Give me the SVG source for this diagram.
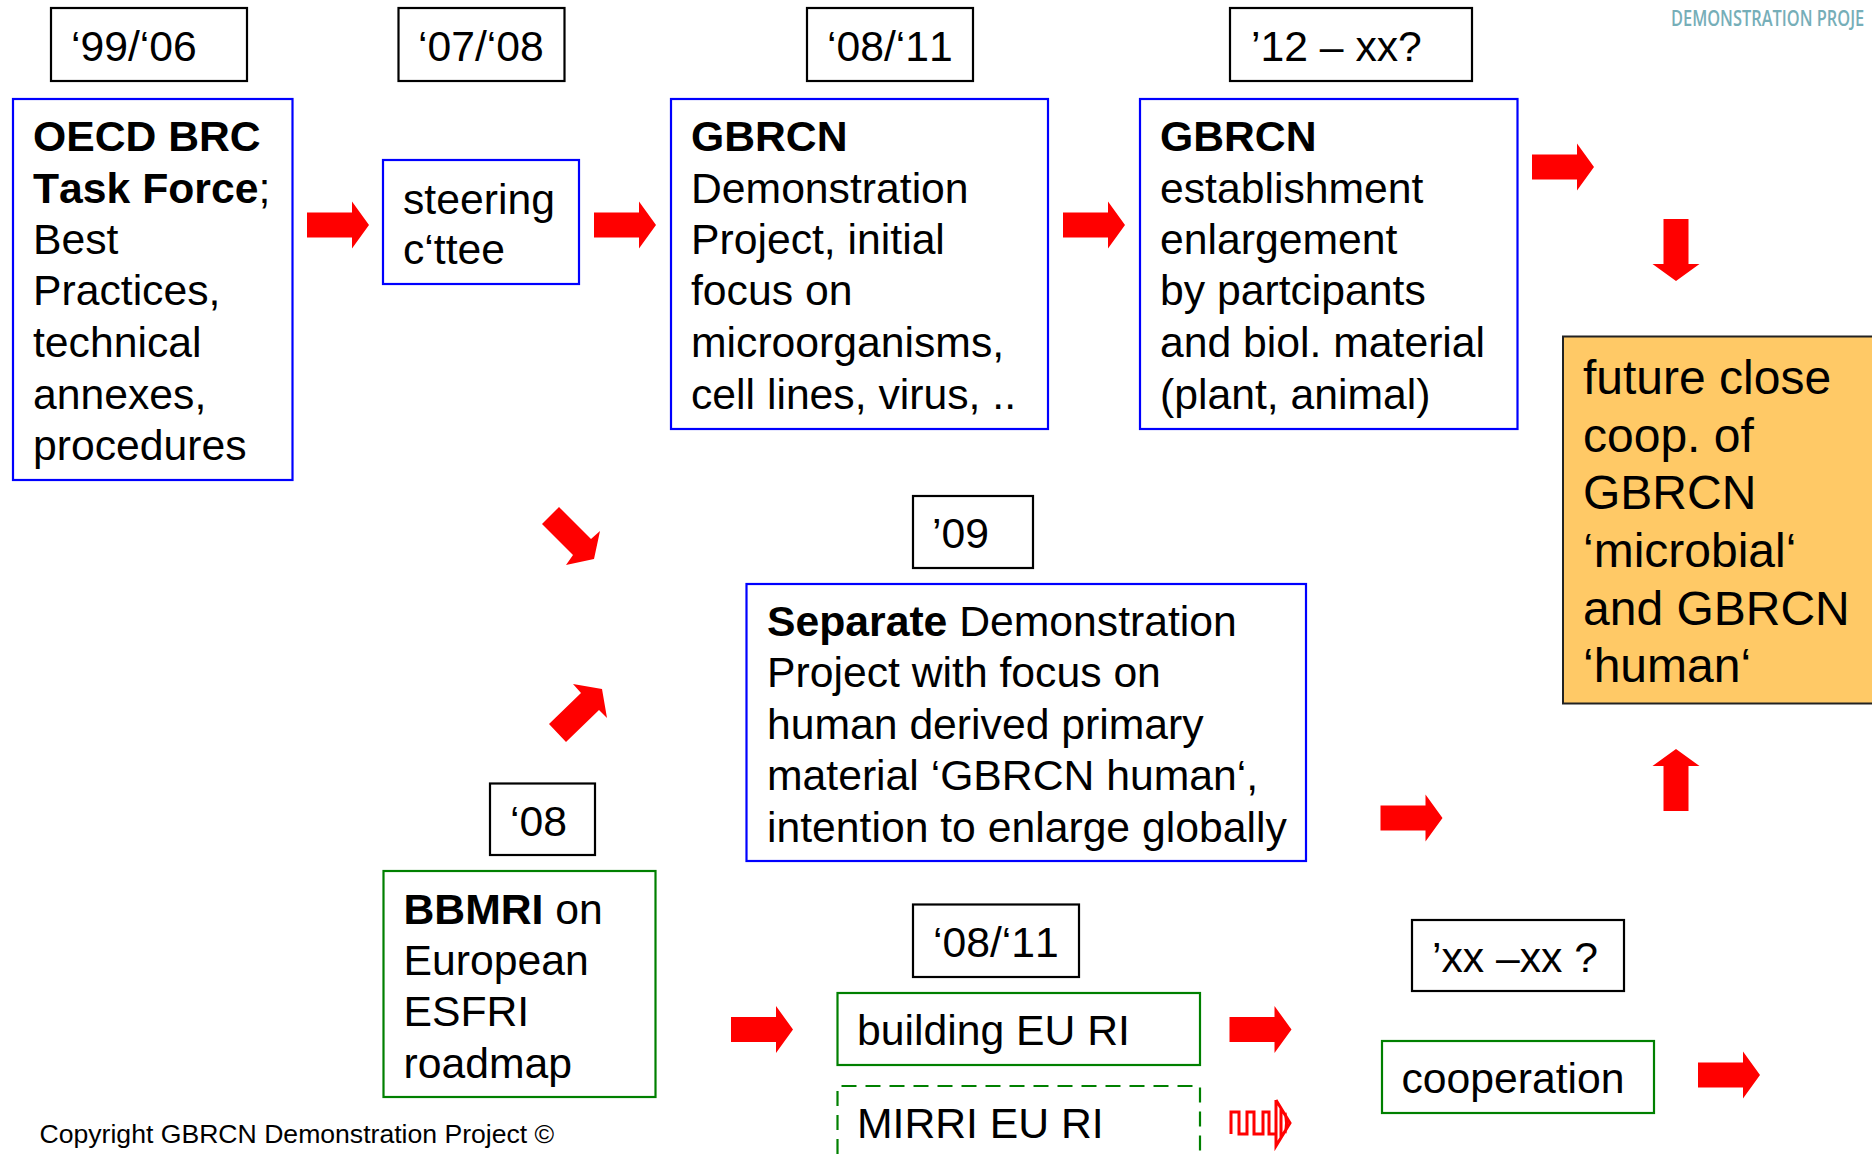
<svg xmlns="http://www.w3.org/2000/svg" width="1872" height="1154" viewBox="0 0 1872 1154">
<style>
text{font-family:"Liberation Sans",Arial,sans-serif;fill:#000;font-kerning:none}
.t{font-size:42.7px}
.o{font-size:48px}
.d{font-size:42.7px}
.b{font-weight:700}
.bx{fill:#fff;stroke-width:2.2}
.k{stroke:#000}.bl{stroke:#00f}.g{stroke:#008000}
.ar{fill:#f00}
</style>
<defs><polygon id="a" points="0,-12.5 45,-12.5 45,-23.5 62,0 45,23.5 45,12.5 0,12.5"/></defs>
<rect width="1872" height="1154" fill="#fff"/>
<text transform="translate(1671 26) scale(.78 1)" font-size="21" style="font-family:'Open Sans',sans-serif;fill:#76aeb8;font-weight:600">DEMONSTRATION PROJE</text>
<g id="d1"><rect class="bx k" x="51" y="8" width="196" height="73"/><text class="d" x="71" y="61">‘99/‘06</text></g>
<g id="d2"><rect class="bx k" x="398.500" y="8" width="166" height="73"/><text class="d" x="418" y="61">‘07/‘08</text></g>
<g id="d3"><rect class="bx k" x="807" y="8" width="166" height="73"/><text class="d" x="827" y="61">‘08/‘11</text></g>
<g id="d4"><rect class="bx k" x="1230" y="8" width="242" height="73"/><text class="d" x="1251" y="61">’12 – xx?</text></g>
<g id="n1"><rect class="bx bl" x="13" y="99" width="279.500" height="381"/><text class="t"><tspan class="b" x="33" y="151">OECD BRC</tspan><tspan class="b" x="33" y="202.500">Task Force</tspan><tspan>;</tspan><tspan x="33" y="254">Best</tspan><tspan x="33" y="305">Practices,</tspan><tspan x="33" y="357">technical</tspan><tspan x="33" y="408.500">annexes,</tspan><tspan x="33" y="459.500">procedures</tspan></text></g>
<g id="n2"><rect class="bx bl" x="383" y="160" width="196" height="124"/><text class="t"><tspan x="403" y="214">steering</tspan><tspan x="403" y="264">c‘ttee</tspan></text></g>
<g id="n3"><rect class="bx bl" x="671" y="99" width="377" height="330"/><text class="t"><tspan class="b" x="691" y="151">GBRCN</tspan><tspan x="691" y="202.500">Demonstration</tspan><tspan x="691" y="254">Project, initial</tspan><tspan x="691" y="305">focus on</tspan><tspan x="691" y="357">microorganisms,</tspan><tspan x="691" y="408.500">cell lines, virus, ..</tspan></text></g>
<g id="n4"><rect class="bx bl" x="1140" y="99" width="377.500" height="330"/><text class="t"><tspan class="b" x="1160" y="151">GBRCN</tspan><tspan x="1160" y="202.500">establishment</tspan><tspan x="1160" y="254">enlargement</tspan><tspan x="1160" y="305">by partcipants</tspan><tspan x="1160" y="357">and biol. material</tspan><tspan x="1160" y="408.500">(plant, animal)</tspan></text></g>
<g id="n5"><rect x="1563" y="336.500" width="311" height="367" fill="#ffc966" stroke="#222" stroke-width="2"/><text class="o"><tspan x="1583" y="394">future close</tspan><tspan x="1583" y="451.500">coop. of</tspan><tspan x="1583" y="509">GBRCN</tspan><tspan x="1583" y="567">‘microbial‘</tspan><tspan x="1583" y="625">and GBRCN</tspan><tspan x="1583" y="682">‘human‘</tspan></text></g>
<g id="d5"><rect class="bx k" x="913" y="496" width="120" height="72"/><text class="d" x="932" y="548">’09</text></g>
<g id="n6"><rect class="bx bl" x="746.500" y="584" width="559.500" height="277"/><text class="t"><tspan class="b" x="767" y="635.500">Separate</tspan><tspan> Demonstration</tspan><tspan x="767" y="687">Project with focus on</tspan><tspan x="767" y="738.500">human derived primary</tspan><tspan x="767" y="790">material ‘GBRCN human‘,</tspan><tspan x="767" y="842">intention to enlarge globally</tspan></text></g>
<g id="d6"><rect class="bx k" x="490" y="783.500" width="105" height="71.500"/><text class="d" x="510" y="836">‘08</text></g>
<g id="n7"><rect class="bx g" x="383.500" y="871" width="272" height="226"/><text class="t"><tspan class="b" x="403.500" y="923.500">BBMRI</tspan><tspan> on</tspan><tspan x="403.500" y="975">European</tspan><tspan x="403.500" y="1026">ESFRI</tspan><tspan x="403.500" y="1078">roadmap</tspan></text></g>
<g id="d7"><rect class="bx k" x="913" y="904.500" width="166" height="72.500"/><text class="d" x="933" y="957">‘08/‘11</text></g>
<g id="n8"><rect class="bx g" x="837.500" y="993" width="362.500" height="72"/><text class="t" x="857" y="1045">building EU RI</text></g>
<g id="n9"><path d="M837.500 1154V1086H1200V1154" fill="#fff" stroke="#008000" stroke-width="2.200" stroke-dasharray="15 9"/><text class="t" x="857" y="1138">MIRRI EU RI</text></g>
<g id="d8"><rect class="bx k" x="1412" y="920" width="212" height="71"/><text class="d" x="1432" y="972">’xx –xx ?</text></g>
<g id="n10"><rect class="bx g" x="1382" y="1041" width="272" height="72"/><text class="t" x="1401.500" y="1093">cooperation</text></g>
<text id="c" x="39.500" y="1143" font-size="26.600">Copyright GBRCN Demonstration Project ©</text>
<g id="connectors" class="ar">
<use href="#a" x="307" y="225"/>
<use href="#a" x="594" y="225"/>
<use href="#a" x="1063" y="225"/>
<use href="#a" x="1532" y="167"/>
<use href="#a" transform="translate(1676 219) rotate(90)"/>
<use href="#a" transform="translate(1676 811) rotate(-90)"/>
<polygon points="559,507 542,524 573,555 566,565 594,559 600,531 591,539"/>
<polygon points="549,724 566,742 599,710 607,718 602,689 573,684 581,693"/>
<use href="#a" x="1380.500" y="818"/>
<use href="#a" x="731" y="1029.500"/>
<use href="#a" x="1229.500" y="1029.500"/>
<use href="#a" x="1698" y="1075"/>
<path d="M1231 1134V1112H1239V1134H1247V1112H1254V1134H1263V1112H1269V1134H1276M1276 1100L1290 1123L1276 1146V1100M1281 1108V1138M1285 1113Q1288 1123 1285 1133" fill="none" stroke="#f00" stroke-width="3"/>
</g>
</svg>
